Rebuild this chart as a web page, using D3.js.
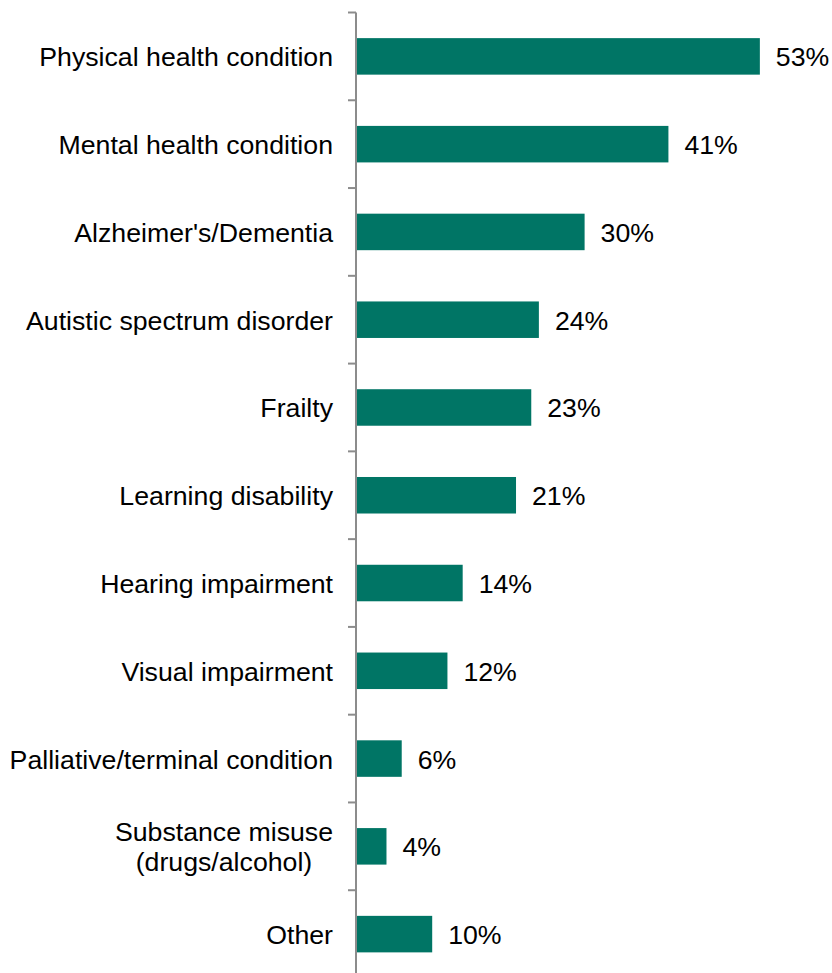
<!DOCTYPE html>
<html><head><meta charset="utf-8">
<script src="https://cdn.jsdelivr.net/npm/d3@7"></script>
<style>body{margin:0;background:#fff}svg{display:block}</style>
</head><body>
<svg id="c" width="832" height="973"></svg>
<script>
const categories = [
  ["Physical health condition"],
  ["Mental health condition"],
  ["Alzheimer's/Dementia"],
  ["Autistic spectrum disorder"],
  ["Frailty"],
  ["Learning disability"],
  ["Hearing impairment"],
  ["Visual impairment"],
  ["Palliative/terminal condition"],
  ["Substance misuse", "(drugs/alcohol)"],
  ["Other"]
];
const values = [53, 41, 30, 24, 23, 21, 14, 12, 6, 4, 10];
const valueLabels = values.map(v => v + "%");

const svg = d3.select("#c");
const axisX = 356;
const font = "'Liberation Sans', Arial, sans-serif";
const fs = 26.7;

const y = d3.scaleBand().domain(d3.range(categories.length)).range([12.5, 978]).paddingInner(0.584).paddingOuter(0.292);
const x = d3.scaleLinear().domain([0, 60]).range([axisX, axisX + 60 * 7.62]);

// bars
svg.append("g").selectAll("rect").data(values).join("rect")
  .attr("x", x(0)).attr("y", (d, i) => y(i))
  .attr("width", d => x(d) - x(0)).attr("height", y.bandwidth())
  .attr("fill", "#007565");

// axis
const step = y.step();
const ag = svg.append("g");
ag.append("line").attr("x1", axisX).attr("x2", axisX).attr("y1", 12.5).attr("y2", 978)
  .attr("stroke", "#8c8c8c").attr("stroke-width", 2);
d3.range(categories.length + 1).forEach(i => {
  const yy = 12.5 + i * step;
  ag.append("line").attr("x1", axisX - 8).attr("x2", axisX).attr("y1", yy).attr("y2", yy)
    .attr("stroke", "#8c8c8c").attr("stroke-width", 2);
});

// category labels
const lh = 30;
categories.forEach((lines, i) => {
  const cy = y(i) + y.bandwidth() / 2;
  const g = svg.append("g");
  const texts = lines.map((s, j) => g.append("text")
    .attr("font-family", font).attr("font-size", fs).attr("fill", "#000")
    .attr("y", cy + (j - (lines.length - 1) / 2) * lh + 10).text(s));
  const maxW = d3.max(texts, t => t.node().getComputedTextLength());
  texts.forEach(t => t.attr("text-anchor", "middle").attr("x", 333 - maxW / 2));
});

// value labels
svg.append("g").selectAll("text").data(values).join("text")
  .attr("x", d => x(d) + 16).attr("y", (d, i) => y(i) + y.bandwidth() / 2 + 10)
  .attr("font-family", font).attr("font-size", fs).attr("fill", "#000")
  .text((d, i) => valueLabels[i]);
</script>
</body></html>
